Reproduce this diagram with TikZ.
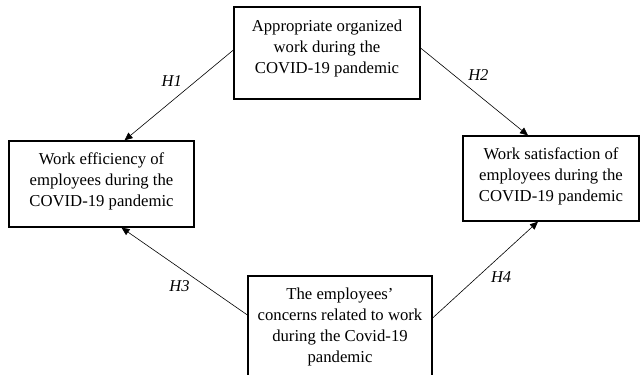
\documentclass[tikz,border=0pt]{standalone}
\usepackage{fontspec}
\setmainfont{Liberation Serif}
\usetikzlibrary{arrows.meta, positioning, calc}

\begin{document}
\begin{tikzpicture}[x=1pt, y=-1pt, >={Triangle[length=8pt, width=7pt]},
  box/.style={draw, line width=1.2pt, inner sep=0pt},
  boxtext/.style={align=center, anchor=north, inner sep=0pt, font=\fontsize{16.7}{21}\selectfont},
  hyp/.style={font=\fontsize{16.5}{18}\selectfont\itshape},
  link/.style={->, line width=0.6pt}]
  \useasboundingbox (0,0) rectangle (641,375);
  % --- Top: organized work ---
  \node[box, minimum width=186pt, minimum height=92pt] (work) at (327,53) {};
  \node[boxtext] (workT) at ($(work.north)+(0,13)$) {Appropriate organized\\work during the\\COVID-19 pandemic};
  % --- Left: efficiency ---
  \node[box, minimum width=185pt, minimum height=86pt] (eff) at (101.5,184) {};
  \node[boxtext] (effT) at ($(eff.north)+(0,12)$) {Work efficiency of\\employees during the\\COVID-19 pandemic};
  % --- Right: satisfaction ---
  \node[box, minimum width=176pt, minimum height=85pt] (sat) at (551,178.5) {};
  \node[boxtext] (satT) at ($(sat.north)+(0,12)$) {Work satisfaction of\\employees during the\\COVID-19 pandemic};
  % --- Bottom: concerns ---
  \node[box, minimum width=184pt, minimum height=104pt] (conc) at (340,328) {};
  \node[boxtext] (concT) at ($(conc.north)+(0,12)$) {The employees'\\concerns related to work\\during the Covid-19\\pandemic};

  % Hypotheses
  \draw[link] ($(work.west)+(0,-3)$) -- node[hyp, pos=0.44, above left] (h1) {H1} ($(eff.north)+(23,0)$);
  \draw[link] ($(work.east)+(0,-5)$) -- node[hyp, pos=0.41, above right] (h2) {H2} ($(sat.north)+(-23,0)$);
  \draw[link] ($(conc.west)+(0,-13)$) -- node[hyp, pos=0.43, below left] (h3) {H3} ($(eff.south)+(20,0)$);
  \draw[link] ($(conc.east)+(0,-10)$) -- node[hyp, pos=0.52, below right] (h4) {H4} ($(sat.south)+(-13,0)$);
\end{tikzpicture}
\end{document}
